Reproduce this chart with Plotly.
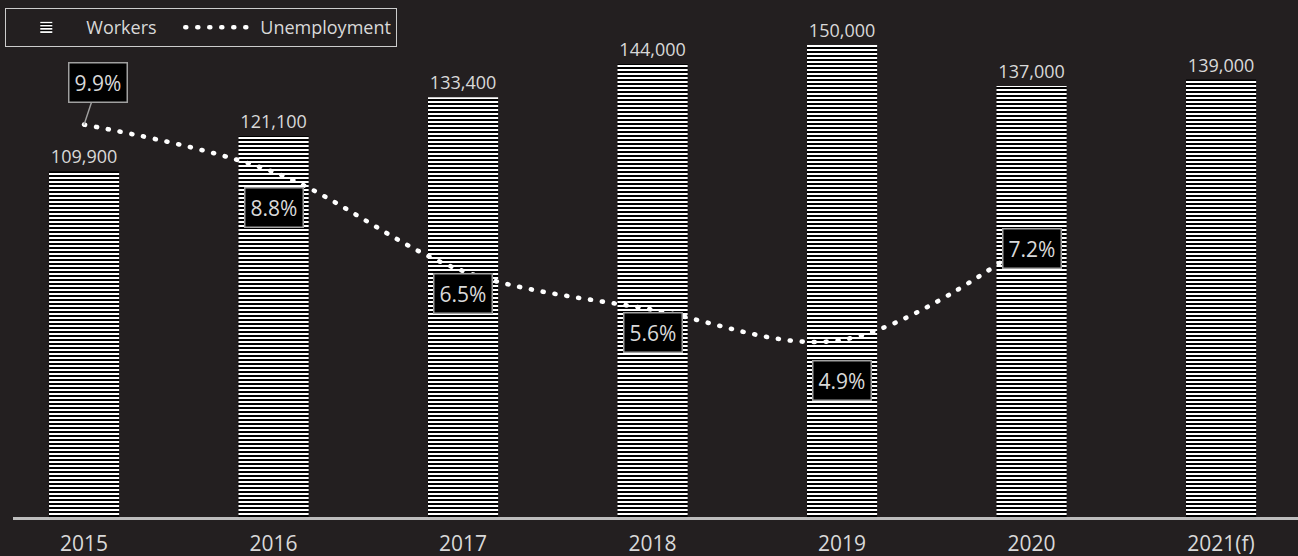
import plotly.graph_objects as go

years = ["2015", "2016", "2017", "2018", "2019", "2020", "2021(f)"]
workers = [109900, 121100, 133400, 144000, 150000, 137000, 139000]
unemp_years = ["2015", "2016", "2017", "2018", "2019", "2020"]
unemployment = [9.9, 8.8, 6.5, 5.6, 4.9, 7.2]
unemp_labels = ["9.9%", "8.8%", "6.5%", "5.6%", "4.9%", "7.2%"]

BG = "#231f20"
TXT = "#d9d9d9"
FONT = "Open Sans"

fig = go.Figure()
fig.add_trace(go.Bar(
    x=years, y=workers, name="Workers\u00a0\u00a0\u00a0\u00a0", width=0.37,
    marker=dict(color="black", line=dict(width=0),
                pattern=dict(shape="-", fgcolor="white", bgcolor="black",
                             size=4, solidity=0.5, fgopacity=1)),
    texttemplate="%{y:,}", textposition="outside", cliponaxis=False,
    textfont=dict(size=18, color=TXT, family=FONT),
))
fig.add_trace(go.Scatter(
    x=unemp_years, y=unemployment, name="Unemployment", yaxis="y2",
    mode="lines", line=dict(color="white", width=4.6, dash="1px,11px",
                            shape="spline", smoothing=1),
))

# pixel offsets of the boxed percentage labels relative to their points
shifts = [0, -36, -22, -23, -41, -8]
annots = []
for i, (yr, v, lab) in enumerate(zip(unemp_years, unemployment, unemp_labels)):
    a = dict(x=years.index(yr), y=v, xref="x", yref="y2", text=lab,
             font=dict(size=21, color=TXT, family=FONT),
             bgcolor="black", bordercolor="#a0a0a0", borderwidth=1.5,
             borderpad=5)
    if i == 0:
        a.update(showarrow=True, arrowhead=0, arrowcolor="#a0a0a0",
                 arrowwidth=1.5, ax=14, ay=-42)
    else:
        a.update(showarrow=False, yshift=shifts[i])
    annots.append(a)

hidden_axis = dict(showgrid=False, showticklabels=False, showline=False,
                   zeroline=False, ticks="")

fig.update_layout(
    width=1298, height=556,
    paper_bgcolor=BG, plot_bgcolor=BG,
    margin=dict(l=13, r=0, t=20, b=39),
    font=dict(family=FONT, color=TXT, size=16),
    showlegend=True,
    annotations=annots,
    legend=dict(orientation="h", x=-0.006, y=1.024, xanchor="left", yanchor="top",
                bgcolor=BG, bordercolor="#cccccc", borderwidth=1,
                font=dict(size=18, color=TXT, family=FONT), itemwidth=70,
                traceorder="normal"),
    xaxis=dict(type="category", range=[-0.375, 6.406], showgrid=False,
               showline=True, linecolor="#bdbdbd", linewidth=3, ticks="",
               ticklabelstandoff=6,
               tickfont=dict(size=21, color=TXT, family=FONT), zeroline=False),
    yaxis=dict(range=[0, 157945], **hidden_axis),
    yaxis2=dict(range=[0.787, 12.33], overlaying="y", side="right", **hidden_axis),
)

post = """
document.documentElement.style.margin='0';document.body.style.margin='0';document.body.style.background='#231f20';
function fixCaps(){document.querySelectorAll('path.js-line').forEach(function(p){p.style.strokeLinecap='round';});}
fixCaps(); setTimeout(fixCaps,50); setTimeout(fixCaps,300);
var gd=document.getElementById('{plot_id}'); if(gd&&gd.on){gd.on('plotly_afterplot',fixCaps);}
"""
fig.write_html("out.html", post_script=post, config={"displayModeBar": False})
